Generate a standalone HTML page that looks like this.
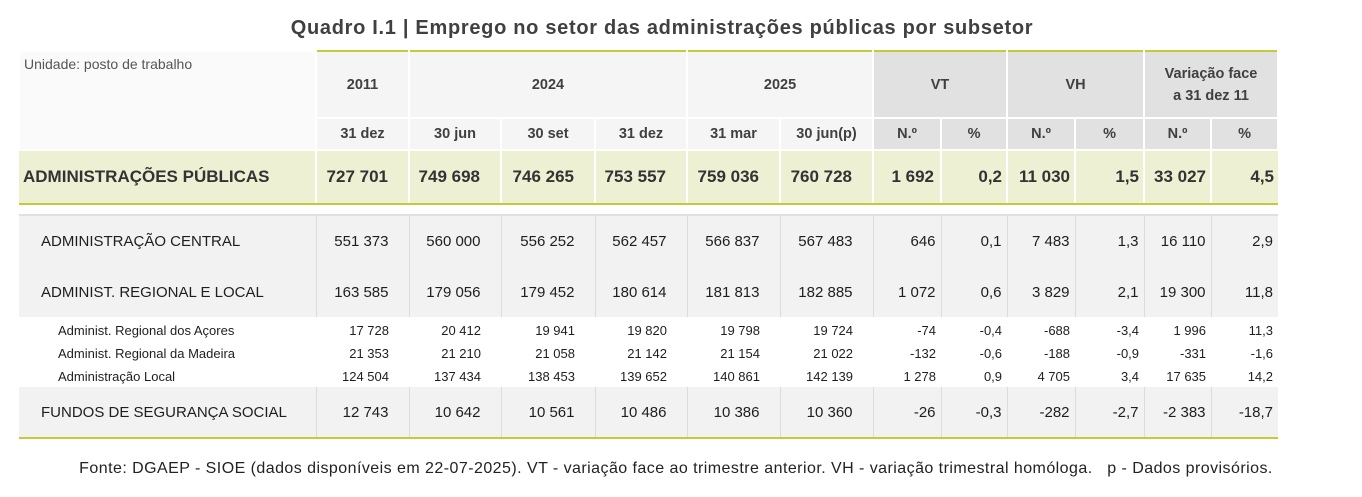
<!DOCTYPE html>
<html><head><meta charset="utf-8"><style>
body{margin:0;width:1362px;height:497px;background:#fff;position:relative;font-family:"Liberation Sans",sans-serif;color:#1e1e1e;overflow:hidden}
.title{position:absolute;top:17px;left:0;width:1324px;text-align:center;font-weight:bold;font-size:20px;letter-spacing:0.7px;color:#404040}
table{position:absolute;left:18px;top:50px;border-collapse:collapse;table-layout:fixed;width:1259px}
td{padding:0;white-space:nowrap;overflow:hidden}
.h td{font-weight:bold;font-size:14.5px;color:#404040;text-align:center;background:#f5f5f5;border:2px solid #fff;border-top:none;border-bottom-width:2px}
.h td.d{background:#e1e1e1}
.h1 td{border-top:2px solid #c5ca3a}
.h1 td.lab{border-top:2px solid #fff;background:#fafafa;text-align:left;vertical-align:top;font-weight:normal;font-size:14px;color:#555;padding:4px 0 0 4px}
.ap td{background:#eef0d3;font-weight:bold;font-size:17px;height:52px;text-align:right;padding-right:20px;border-left:2px solid #fff;border-top:2px solid #c5ca3a;border-bottom:2px solid #c5ca3a;color:#333}
.ap td.v{padding-right:4px}
.ap td.lab{text-align:left;padding-left:4px;border-left:none}
.gap td{height:9px}
.m td{background:#f2f2f2;font-size:15px;text-align:right;padding-right:20px;border-left:1px solid #dcdcdc}
.m td.v{padding-right:5px}
.m td.lab{text-align:left;padding-left:22px;border-left:none}
.s td{background:#fff;font-size:13px;text-align:right;padding-right:20px;height:23px;padding-top:3px;box-sizing:border-box}
.s td.v{padding-right:5px}
.s td.lab{text-align:left;padding-left:39px}
.top td{border-top:2px solid #e0e0e0}
.bot td{border-bottom:2px solid #c5ca3a}
.foot{position:absolute;top:460px;left:0;width:1352px;text-align:center;font-size:16px;letter-spacing:0.45px;color:#222}
</style></head><body>
<div class="title">Quadro I.1 | Emprego no setor das administrações públicas por subsetor</div>
<table>
<colgroup><col style="width:297px"><col style="width:93px"><col style="width:92px"><col style="width:94px"><col style="width:92px"><col style="width:93px"><col style="width:93px"><col style="width:68px"><col style="width:66px"><col style="width:68px"><col style="width:69px"><col style="width:67px"><col style="width:67px"></colgroup>
<tr class="h h1" style="height:67px"><td class="lab" rowspan="2">Unidade: posto de trabalho</td><td>2011</td><td colspan="3">2024</td><td colspan="2">2025</td><td class="d" colspan="2">VT</td><td class="d" colspan="2">VH</td><td class="d" colspan="2" style="line-height:22px">Variação face<br>a 31 dez 11</td></tr>
<tr class="h" style="height:32px"><td>31 dez</td><td>30 jun</td><td>30 set</td><td>31 dez</td><td>31 mar</td><td>30 jun(p)</td><td class="d">N.º</td><td class="d">%</td><td class="d">N.º</td><td class="d">%</td><td class="d">N.º</td><td class="d">%</td></tr>
<tr class="ap"><td class="lab">ADMINISTRAÇÕES PÚBLICAS</td><td>727 701</td><td>749 698</td><td>746 265</td><td>753 557</td><td>759 036</td><td>760 728</td><td class="v" style="padding-right:6px">1 692</td><td class="v">0,2</td><td class="v">11 030</td><td class="v">1,5</td><td class="v">33 027</td><td class="v">4,5</td></tr>
<tr class="gap"><td colspan="13"></td></tr>
<tr class="m top" style="height:52px"><td class="lab">ADMINISTRAÇÃO CENTRAL</td><td>551 373</td><td>560 000</td><td>556 252</td><td>562 457</td><td>566 837</td><td>567 483</td><td class="v">646</td><td class="v">0,1</td><td class="v">7 483</td><td class="v">1,3</td><td class="v">16 110</td><td class="v">2,9</td></tr>
<tr class="m" style="height:50px"><td class="lab">ADMINIST. REGIONAL E LOCAL</td><td>163 585</td><td>179 056</td><td>179 452</td><td>180 614</td><td>181 813</td><td>182 885</td><td class="v">1 072</td><td class="v">0,6</td><td class="v">3 829</td><td class="v">2,1</td><td class="v">19 300</td><td class="v">11,8</td></tr>
<tr class="s"><td class="lab">Administ. Regional dos Açores</td><td>17 728</td><td>20 412</td><td>19 941</td><td>19 820</td><td>19 798</td><td>19 724</td><td class="v">-74</td><td class="v">-0,4</td><td class="v">-688</td><td class="v">-3,4</td><td class="v">1 996</td><td class="v">11,3</td></tr>
<tr class="s"><td class="lab">Administ. Regional da Madeira</td><td>21 353</td><td>21 210</td><td>21 058</td><td>21 142</td><td>21 154</td><td>21 022</td><td class="v">-132</td><td class="v">-0,6</td><td class="v">-188</td><td class="v">-0,9</td><td class="v">-331</td><td class="v">-1,6</td></tr>
<tr class="s" style="height:24px"><td class="lab">Administração Local</td><td>124 504</td><td>137 434</td><td>138 453</td><td>139 652</td><td>140 861</td><td>142 139</td><td class="v">1 278</td><td class="v">0,9</td><td class="v">4 705</td><td class="v">3,4</td><td class="v">17 635</td><td class="v">14,2</td></tr>
<tr class="m bot" style="height:51px"><td class="lab">FUNDOS DE SEGURANÇA SOCIAL</td><td>12 743</td><td>10 642</td><td>10 561</td><td>10 486</td><td>10 386</td><td>10 360</td><td class="v">-26</td><td class="v">-0,3</td><td class="v">-282</td><td class="v">-2,7</td><td class="v">-2 383</td><td class="v">-18,7</td></tr>
</table>
<div class="foot">Fonte: DGAEP - SIOE (dados disponíveis em 22-07-2025). VT - variação face ao trimestre anterior. VH - variação trimestral homóloga.&nbsp;&nbsp; p - Dados provisórios.</div>
</body></html>
